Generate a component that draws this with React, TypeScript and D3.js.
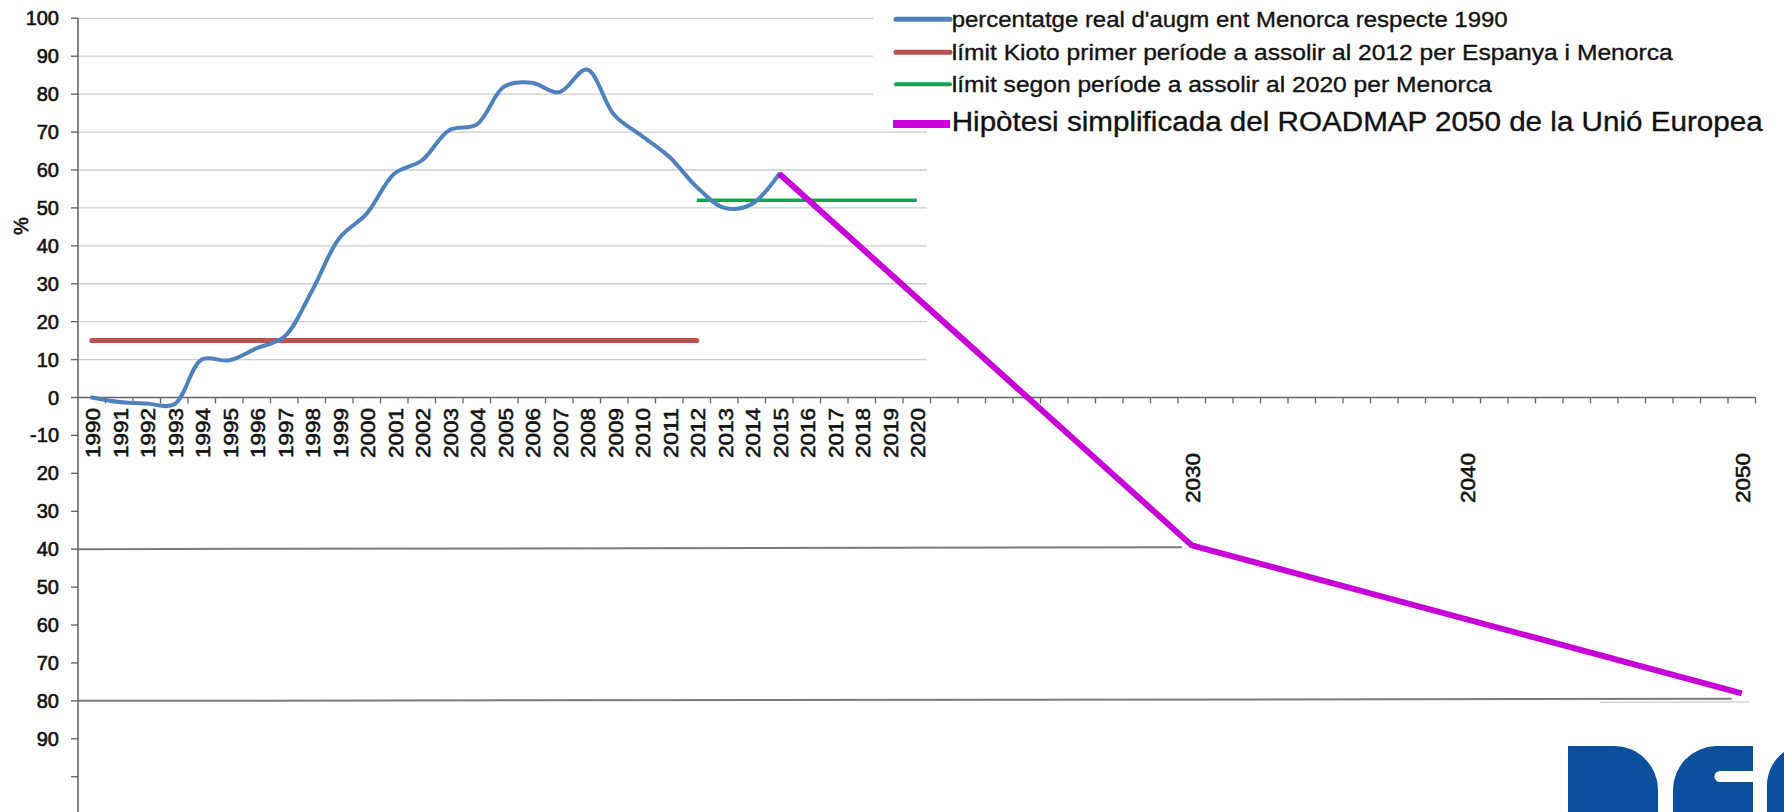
import React from "react"
import * as d3 from "d3"

// categories on the x axis: one band per year
const years = d3.range(1990, 2051)

const realYears = [1990, 1991, 1992, 1993, 1994, 1995, 1996, 1997, 1998, 1999, 2000, 2001, 2002,
  2003, 2004, 2005, 2006, 2007, 2008, 2009, 2010, 2011, 2012, 2013, 2014, 2015]
const realValues = [0, -1.2, -1.6, -1.8, 10, 9.8, 13, 16, 28, 42, 48.5, 59, 62.5,
  70.5, 72, 82, 83, 80.5, 86.5, 74.5, 69, 63.5, 55.5, 50, 51, 59]

const kiotoYears = [1990, 2012]
const kiotoValues = [15, 15]

const secondYears = [2012, 2020]
const secondValues = [52, 52]

const roadmapYears = [2015, 2030, 2050]
const roadmapValues = [59, -39, -78]

// hand drawn guide lines under the axis
const guideEndYears = [2030, 2050]
const guideValues = [-40, -80]

const yTicks = [100, 90, 80, 70, 60, 50, 40, 30, 20, 10, 0, -10, -20, -30, -40, -50, -60, -70, -80, -90, -100]
const yTickLabels = ["100", "90", "80", "70", "60", "50", "40", "30", "20", "10", "0", "-10", "20", "30", "40", "50", "60", "70", "80", "90", ""]
const gridValues = [100, 90, 80, 70, 60, 50, 40, 30, 20, 10]

const xTickLabels = ["1990", "1991", "1992", "1993", "1994", "1995", "1996", "1997", "1998", "1999",
  "2000", "2001", "2002", "2003", "2004", "2005", "2006", "2007", "2008", "2009", "2010",
  "2011", "2012", "2013", "2014", "2015", "2016", "2017", "2018", "2019", "2020",
  "2030", "2040", "2050"]

const legendLabels = [
  "percentatge real d'augm ent Menorca respecte 1990",
  "límit Kioto primer període a assolir al 2012 per Espanya i Menorca",
  "límit segon període a assolir al 2020 per Menorca",
  "Hipòtesi simplificada del ROADMAP 2050 de la Unió Europea",
]

const W = 1784
const H = 812
const FONT = "'Liberation Sans', Arial, sans-serif"
const INK = "#111"
const BLUE = "#4f81bd"
const RED = "#c0504d"
const GREEN = "#12a54f"
const MAGENTA = "#c800d8"

export default function App() {
  const x = d3.scaleBand<number>().domain(years).range([78, 1755.5]).padding(0)
  const cx = (yr: number) => (x(yr) as number) + x.bandwidth() / 2
  const y = d3.scaleLinear().domain([-100, 100]).range([776.7, 18.3])

  const smooth = d3.line<number>()
    .x((_, i) => cx(realYears[i]))
    .y(d => y(d))
    .curve(d3.curveCatmullRom.alpha(0.5))

  const straight = (yrs: number[]) => d3.line<number>()
    .x((_, i) => cx(yrs[i]))
    .y(d => y(d))

  const x0 = 78
  const y0 = y(0)

  const legendColors = [BLUE, RED, GREEN, MAGENTA]
  const legendRows = [
    { yl: 19.3, yt: 27, len: 556, size: 22.5, sw: 5 },
    { yl: 52.3, yt: 60.3, len: 721, size: 22.5, sw: 5 },
    { yl: 84.3, yt: 92, len: 540, size: 22.5, sw: 4 },
    { yl: 124, yt: 131, len: 811, size: 27, sw: 8 },
  ]

  return (
    <svg width={W} height={H} style={{ position: "absolute", left: 0, top: 0, background: "#fff" }}
      fontFamily={FONT}>
      <rect width={W} height={H} fill="#fff" />

      {/* grid */}
      {gridValues.map(v => (
        <line key={v} x1={x0} x2={927} y1={y(v)} y2={y(v)} stroke="#cdcdcd" strokeWidth={1.3} />
      ))}

      {/* guide lines below zero */}
      {guideValues.map((v, i) => (
        <line key={v} x1={x0} x2={cx(guideEndYears[i]) - 10} y1={y(v)} y2={y(v) - 2}
          stroke="#7a7a7a" strokeWidth={2} />
      ))}
      <line x1={1600} x2={1749} y1={y(-80) + 1.5} y2={y(-80) + 1} stroke="#bbb" strokeWidth={1} />

      {/* legend box */}
      <rect x={873} y={0} width={W - 873} height={112} fill="#fff" />

      {/* y axis */}
      <line x1={x0} x2={x0} y1={y(100)} y2={H} stroke="#666" strokeWidth={1.6} />
      {yTicks.map((v, i) => (
        <g key={v}>
          <line x1={71} x2={x0} y1={y(v)} y2={y(v)} stroke="#666" strokeWidth={1.4} />
          <text x={59} y={y(v)} dy="0.35em" textAnchor="end" fontSize={20} fill={INK}
            stroke={INK} strokeWidth={0.6}>
            {yTickLabels[i]}
          </text>
        </g>
      ))}
      <text transform={`translate(21,226) rotate(-90)`} textAnchor="middle" dy="0.35em"
        fontSize={20} fill={INK} stroke={INK} strokeWidth={0.6}>%</text>

      {/* x axis */}
      <line x1={x0} x2={1755.5} y1={y0} y2={y0} stroke="#666" strokeWidth={1.6} />
      {years.map(yr => (
        <line key={yr} x1={(x(yr) as number) + x.bandwidth()} x2={(x(yr) as number) + x.bandwidth()}
          y1={y0} y2={y0 + 6} stroke="#666" strokeWidth={1.3} />
      ))}
      {xTickLabels.map(lbl => {
        const yr = +lbl
        const top = yr <= 2020 ? 408 : 453
        return (
          <text key={lbl} transform={`translate(${cx(yr) + 1.5},${top}) rotate(-90)`}
            textAnchor="end" dy="0.35em" fontSize={19.5} textLength={50}
            lengthAdjust="spacingAndGlyphs" fill={INK} stroke={INK} strokeWidth={0.55}>{lbl}</text>
        )
      })}

      {/* series */}
      <path d={straight(kiotoYears)(kiotoValues) || ""} fill="none" stroke={RED} strokeWidth={5}
        strokeLinecap="round" />
      <path d={straight(secondYears)(secondValues) || ""} fill="none" stroke={GREEN} strokeWidth={3.6} />
      <path d={smooth(realValues) || ""} fill="none" stroke={BLUE} strokeWidth={4}
        strokeLinejoin="round" strokeLinecap="round" />
      <path d={straight(roadmapYears)(roadmapValues) || ""} fill="none" stroke={MAGENTA} strokeWidth={6} />

      {/* legend */}
      {legendLabels.map((lbl, i) => {
        const r = legendRows[i]
        return (
          <g key={lbl}>
            <line x1={i === 3 ? 893 : 896} x2={950} y1={r.yl} y2={r.yl} stroke={legendColors[i]}
              strokeWidth={r.sw} strokeLinecap={i === 3 ? "butt" : "round"} />
            <text x={951.7} y={r.yt} fontSize={r.size} textLength={r.len}
              lengthAdjust="spacingAndGlyphs" fill={INK} stroke={INK} strokeWidth={0.35}>{lbl}</text>
          </g>
        )
      })}

      {/* logo, bottom right */}
      <g fill="#0a509c">
        <path d="M1568 746 H1614 A44 44 0 0 1 1658 790 V812 H1568 Z" />
        <path d="M1716 746 H1753 V771 H1720 A5.5 5.5 0 0 0 1720 782 H1753 V812 H1673 V790 A44 44 0 0 1 1716 746 Z" />
        <path d="M1767 812 V788 A42 42 0 0 1 1784 752 V812 Z" />
      </g>
    </svg>
  )
}
